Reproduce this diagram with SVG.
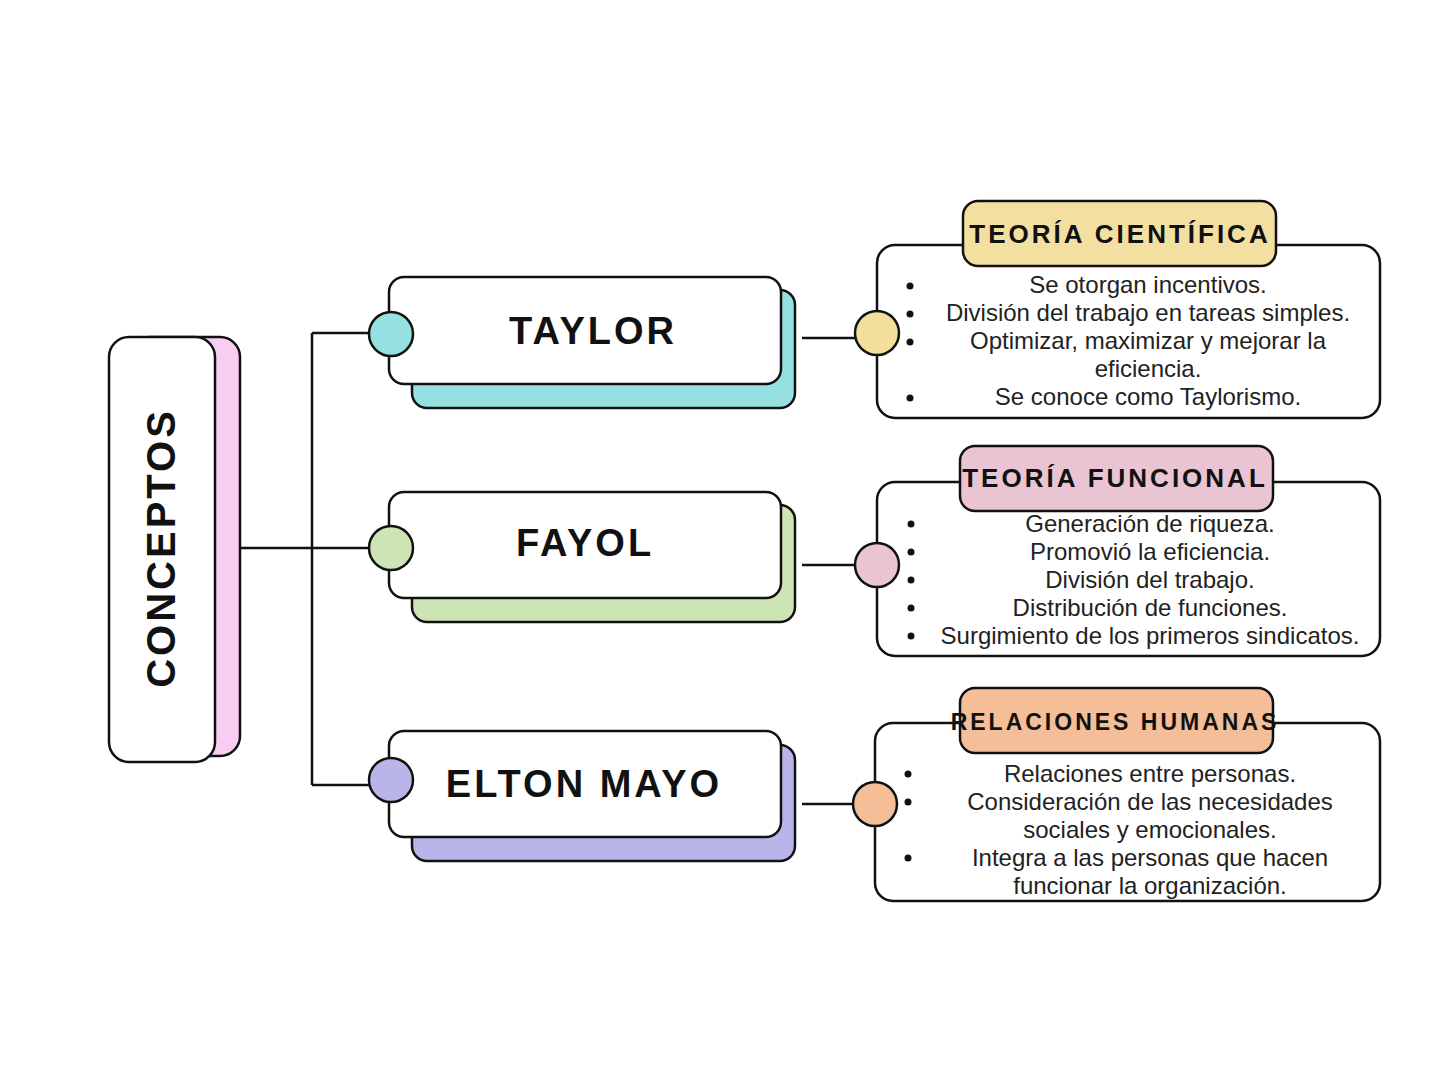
<svg xmlns="http://www.w3.org/2000/svg" width="1439" height="1080" viewBox="0 0 1439 1080">
<style>
.o{stroke:#111;stroke-width:2.5}
.w{fill:#fff}
.h{font-family:"Liberation Sans",sans-serif;font-weight:bold;fill:#111;text-anchor:middle;letter-spacing:3px}
.t{font-family:"Liberation Sans",sans-serif;font-size:24px;fill:#222;text-anchor:middle}
.b{fill:#111}
.l{stroke:#111;stroke-width:2.5;fill:none}
</style>
<rect width="1439" height="1080" fill="#fff"/>
<g id="conceptos">
<rect x="130" y="337" width="110" height="419" rx="20" fill="#F7CDF2" class="o"/>
<rect x="109" y="337" width="106" height="425" rx="20" class="o w"/>
<text class="h" font-size="40" transform="translate(175,548) rotate(-90)">CONCEPTOS</text>
</g>
<g id="connectors">
<path class="l" d="M240,548H312M312,333V785M312,333H370M312,548H370M312,785H370M802,338H855M802,565H855M802,804H853"/>
</g>
<g id="taylor">
<rect x="412" y="290" width="383" height="118" rx="15" fill="#95E0E0" class="o"/>
<rect x="389" y="277" width="392" height="107" rx="15" class="o w"/>
<circle cx="391" cy="334" r="22" fill="#95E0E0" class="o"/>
<text class="h" font-size="38" x="593" y="344">TAYLOR</text>
</g>
<g id="fayol">
<rect x="412" y="505" width="383" height="117" rx="15" fill="#CDE5B5" class="o"/>
<rect x="389" y="492" width="392" height="106" rx="15" class="o w"/>
<circle cx="391" cy="548" r="22" fill="#CDE5B5" class="o"/>
<text class="h" font-size="38" x="585" y="556">FAYOL</text>
</g>
<g id="mayo">
<rect x="412" y="745" width="383" height="116" rx="15" fill="#B9B5EA" class="o"/>
<rect x="389" y="731" width="392" height="106" rx="15" class="o w"/>
<circle cx="391" cy="780" r="22" fill="#B9B5EA" class="o"/>
<text class="h" font-size="38" x="584" y="797">ELTON MAYO</text>
</g>
<g id="cientifica">
<rect x="877" y="245" width="503" height="173" rx="18" class="o w"/>
<rect x="963" y="201" width="313" height="65" rx="15" fill="#F3E0A0" class="o"/>
<text class="h" font-size="26" x="1120" y="243">TEORÍA CIENTÍFICA</text>
<circle cx="877" cy="333" r="22" fill="#F3DE9C" class="o"/>
<text class="t" x="1148" y="293">Se otorgan incentivos.</text>
<text class="t" x="1148" y="321">División del trabajo en tareas simples.</text>
<text class="t" x="1148" y="349">Optimizar, maximizar y mejorar la</text>
<text class="t" x="1148" y="377">eficiencia.</text>
<text class="t" x="1148" y="405">Se conoce como Taylorismo.</text>
<circle class="b" cx="910" cy="286" r="3.5"/><circle class="b" cx="910" cy="314" r="3.5"/><circle class="b" cx="910" cy="342" r="3.5"/><circle class="b" cx="910" cy="398" r="3.5"/>
</g>
<g id="funcional">
<rect x="877" y="482" width="503" height="174" rx="18" class="o w"/>
<rect x="960" y="446" width="313" height="65" rx="15" fill="#EBC4D4" class="o"/>
<text class="h" font-size="26" x="1115" y="487">TEORÍA FUNCIONAL</text>
<circle cx="877" cy="565" r="22" fill="#EBC4D4" class="o"/>
<text class="t" x="1150" y="532">Generación de riqueza.</text>
<text class="t" x="1150" y="560">Promovió la eficiencia.</text>
<text class="t" x="1150" y="588">División del trabajo.</text>
<text class="t" x="1150" y="616">Distribución de funciones.</text>
<text class="t" x="1150" y="644">Surgimiento de los primeros sindicatos.</text>
<circle class="b" cx="911" cy="524" r="3.5"/><circle class="b" cx="911" cy="552" r="3.5"/><circle class="b" cx="911" cy="580" r="3.5"/><circle class="b" cx="911" cy="608" r="3.5"/><circle class="b" cx="911" cy="636" r="3.5"/>
</g>
<g id="humanas">
<rect x="875" y="723" width="505" height="178" rx="18" class="o w"/>
<rect x="960" y="688" width="313" height="65" rx="15" fill="#F4BE98" class="o"/>
<text class="h" font-size="23" x="1115" y="730">RELACIONES HUMANAS</text>
<circle cx="875" cy="804" r="22" fill="#F4BE98" class="o"/>
<text class="t" x="1150" y="782">Relaciones entre personas.</text>
<text class="t" x="1150" y="810">Consideración de las necesidades</text>
<text class="t" x="1150" y="838">sociales y emocionales.</text>
<text class="t" x="1150" y="866">Integra a las personas que hacen</text>
<text class="t" x="1150" y="894">funcionar la organización.</text>
<circle class="b" cx="908" cy="774" r="3.5"/><circle class="b" cx="908" cy="802" r="3.5"/><circle class="b" cx="908" cy="858" r="3.5"/>
</g>
</svg>
